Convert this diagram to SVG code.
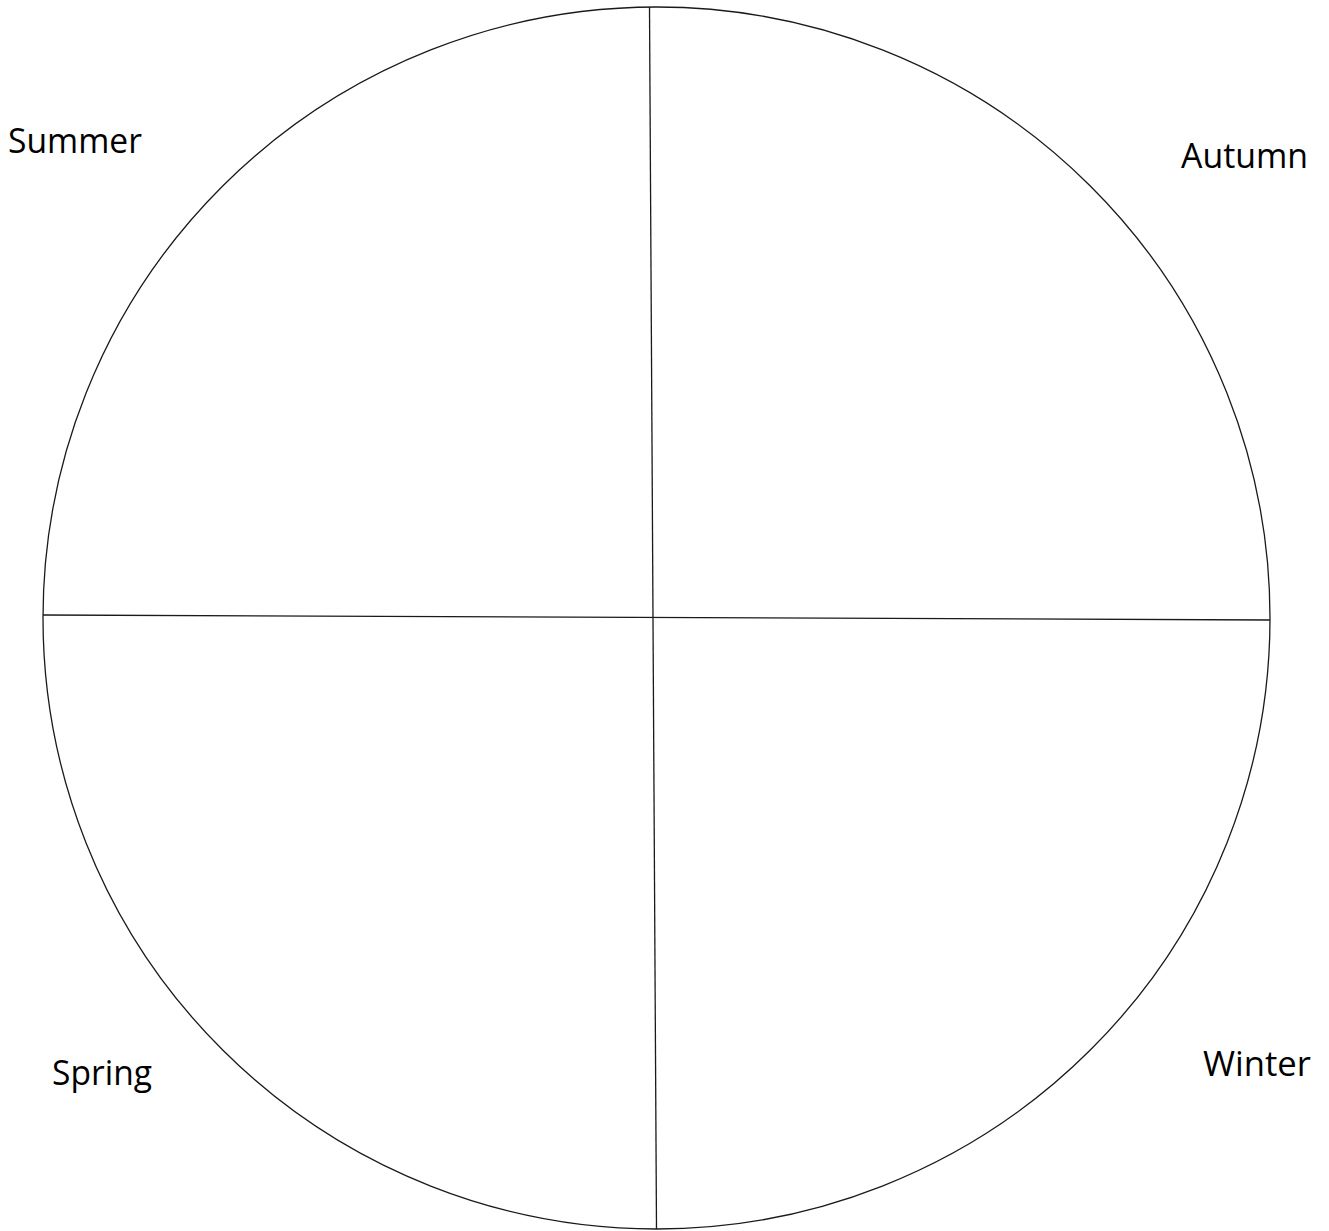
<svg xmlns="http://www.w3.org/2000/svg" width="1329" height="1231" viewBox="0 0 1329 1231">
<style>
.ln{fill:none;stroke:#1a1a1a;stroke-width:1.3}
.lb{font-family:"Open Sans","Liberation Sans",sans-serif;font-size:34px;fill:#000}
</style>
<rect width="1329" height="1231" fill="#fff"/>
<g id="circle"><ellipse class="ln" cx="656.5" cy="618" rx="613.5" ry="611"/></g>
<g id="connectors">
<line class="ln" x1="649.5" y1="7" x2="656.5" y2="1229"/>
<line class="ln" x1="43" y1="615" x2="1270" y2="620"/>
</g>
<g id="summer"><text class="lb" x="8" y="153" textLength="134" lengthAdjust="spacingAndGlyphs">Summer</text></g>
<g id="autumn"><text class="lb" x="1181" y="168" textLength="127" lengthAdjust="spacingAndGlyphs">Autumn</text></g>
<g id="spring"><text class="lb" x="52" y="1085" textLength="100" lengthAdjust="spacingAndGlyphs">Spring</text></g>
<g id="winter"><text class="lb" x="1203" y="1076" textLength="108" lengthAdjust="spacingAndGlyphs">Winter</text></g>
</svg>
